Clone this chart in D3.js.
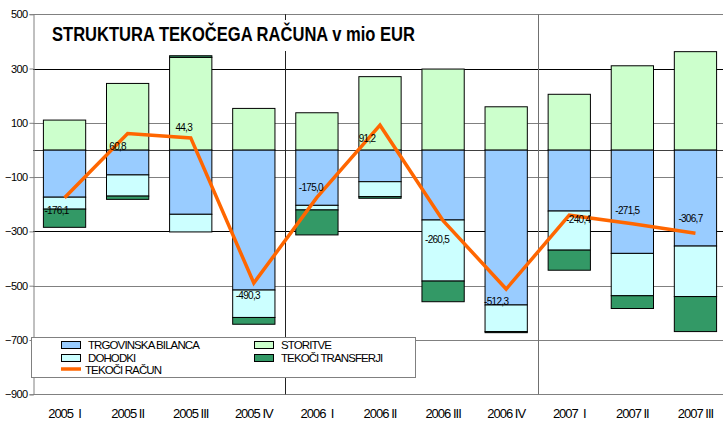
<!DOCTYPE html>
<html><head><meta charset="utf-8">
<script src="https://cdn.jsdelivr.net/npm/d3@7"></script>
<style>
body{margin:0;background:#fff;}
svg{display:block;font-family:"Liberation Sans",Arial,sans-serif;}
</style></head>
<body><svg id="c" width="723" height="421"></svg>
<script>
// ---- data ----
const categories = ["2005  I","2005 II","2005 III","2005 IV","2006  I","2006 II","2006 III","2006 IV","2007  I","2007 II","2007 III"];
const storitve   = [110, 245, 341, 153, 137, 270, 298, 159, 205, 310, 362];
const trgovinska = [-174, -92, -237, -516, -204, -117, -258, -571, -225, -381, -354];
const dohodki    = [-44, -78, -65, -101, -17, -55, -225, -98, -144, -156, -186];
const transferji = [-67, -12, 6, -25, -92, -6, -76, -4, -74, -47, -129];
const tekociRacun = [-176.1, 60.8, 44.3, -490.3, -175.0, 91.2, -260.5, -512.3, -240.4, -271.5, -306.7];
const yTicks = [500, 300, 100, -100, -300, -500, -700, -900];
const title = "STRUKTURA TEKOČEGA RAČUNA v mio EUR";
const seriesNames = {trg:"TRGOVINSKA BILANCA", sto:"STORITVE", doh:"DOHODKI", tra:"TEKOČI TRANSFERJI", tr:"TEKOČI RAČUN"};

// ---- layout / style (not data) ----
const colors = {trg:"#99CCFF", sto:"#CCFFCC", doh:"#CCFFFF", tra:"#339966", tr:"#FF6600"};
const labelOffsets = [[-8,13],[-10,13],[-7,-10],[-6,12],[-6,-10],[-13,13],[-6,19],[-10,12],[9,4],[-5,-13],[-5,-15]];

const svg = d3.select("#c");
const x = d3.scaleBand().domain(categories).range([33, 727]).paddingInner(0.33).paddingOuter(0.165);
const y = d3.scaleLinear().domain([-900, 500]).range([394.3, 14.2]);

const rows = categories.map((c,i)=>({cat:c, trg:trgovinska[i], sto:storitve[i], doh:dohodki[i], tra:transferji[i]}));
const stack = d3.stack().keys(["trg","sto","doh","tra"]).offset(d3.stackOffsetDiverging)(rows);

// gridlines
const gridColor = v => (v===300||v===-300) ? "#000" : "#808080";
svg.append("g").selectAll("line").data(yTicks).join("line")
  .attr("x1",33).attr("x2",723)
  .attr("y1",d=>Math.round(y(d))+0.5).attr("y2",d=>Math.round(y(d))+0.5)
  .attr("stroke",gridColor).attr("stroke-width",1);
// zero line
svg.append("line").attr("x1",33).attr("x2",723)
  .attr("y1",Math.round(y(0))+0.5).attr("y2",Math.round(y(0))+0.5)
  .attr("stroke","#404040");
// year separators
const sepIdx = [4, 8];
svg.append("g").selectAll("line").data(sepIdx).join("line")
  .attr("x1",i=>Math.round(x(categories[i]) - x.step()*x.paddingInner()/2)+0.5)
  .attr("x2",i=>Math.round(x(categories[i]) - x.step()*x.paddingInner()/2)+0.5)
  .attr("y1",y(500)).attr("y2",y(-900))
  .attr("stroke",(d,i)=> i===0 ? "#222" : "#707070");

// y axis
const yAxis = d3.axisLeft(y).tickValues(yTicks).tickSize(4).tickPadding(2).tickFormat(d3.format("d"));
const ga = svg.append("g").attr("transform","translate(33.5,0)").call(yAxis);
ga.select(".domain").attr("stroke","#808080");
ga.selectAll(".tick line").attr("stroke","#808080");
ga.selectAll(".tick text").attr("font-size",11).attr("letter-spacing",-0.6).attr("fill","#000")
  .attr("font-family","Liberation Sans, Arial, sans-serif");

// bars
svg.append("g").selectAll("g").data(stack).join("g")
  .attr("fill",s=>colors[s.key])
  .selectAll("rect").data(s=>s).join("rect")
  .attr("x",d=>x(d.data.cat)).attr("width",x.bandwidth())
  .attr("y",d=>y(Math.max(d[0],d[1]))).attr("height",d=>Math.abs(y(d[0])-y(d[1])))
  .attr("stroke","#000").attr("stroke-width",1);

// line
const pts = categories.map((c,i)=>[x(c)+x.bandwidth()/2, y(tekociRacun[i])]);
svg.append("path").attr("d",d3.line()(pts)).attr("fill","none")
  .attr("stroke",colors.tr).attr("stroke-width",3.5).attr("stroke-linejoin","miter");

// labels
const fmt = v => v.toFixed(1).replace(".",",");
svg.append("g").selectAll("text").data(tekociRacun).join("text")
  .attr("x",(d,i)=>pts[i][0]+labelOffsets[i][0])
  .attr("y",(d,i)=>pts[i][1]+labelOffsets[i][1])
  .attr("dy","0.35em").attr("text-anchor","middle")
  .attr("font-size",10).attr("letter-spacing",-0.7).attr("fill","#000")
  .text(fmt);

// x labels
svg.append("g").selectAll("text").data(categories).join("text")
  .attr("x",d=>x(d)+x.bandwidth()/2).attr("y",418)
  .attr("text-anchor","middle").attr("font-size",13).attr("letter-spacing",-1)
  .style("white-space","pre").attr("fill","#000").text(d=>d);

// title
svg.append("rect").attr("x",46).attr("y",20).attr("width",375).attr("height",31).attr("fill","#fff");
svg.append("text").attr("x",52).attr("y",41).attr("font-size",20).attr("font-weight","bold")
  .attr("textLength",363).attr("lengthAdjust","spacingAndGlyphs").attr("fill","#000").text(title);

// legend
const lg = svg.append("g");
lg.append("rect").attr("x",31.5).attr("y",337.5).attr("width",384).attr("height",40)
  .attr("fill","#fff").attr("stroke","#808080");
const items = [
  {k:"trg", x:61, y:341, type:"rect"},
  {k:"doh", x:61, y:354, type:"rect"},
  {k:"tr",  x:61, y:369, type:"line"},
  {k:"sto", x:254, y:341, type:"rect"},
  {k:"tra", x:254, y:354, type:"rect"}
];
items.forEach(it=>{
  if(it.type==="rect"){
    lg.append("rect").attr("x",it.x+0.5).attr("y",it.y+0.5).attr("width",19).attr("height",7)
      .attr("fill",colors[it.k]).attr("stroke","#000");
    lg.append("text").attr("x",it.x+27).attr("y",it.y+8).attr("font-size",11.5).attr("letter-spacing",-0.9)
      .attr("fill","#000").text(seriesNames[it.k]);
  } else {
    lg.append("line").attr("x1",it.x).attr("x2",it.x+20).attr("y1",it.y).attr("y2",it.y)
      .attr("stroke",colors[it.k]).attr("stroke-width",3.5);
    lg.append("text").attr("x",it.x+24).attr("y",it.y+4.5).attr("font-size",11.5).attr("letter-spacing",-0.9)
      .attr("fill","#000").text(seriesNames[it.k]);
  }
});
</script></body></html>
